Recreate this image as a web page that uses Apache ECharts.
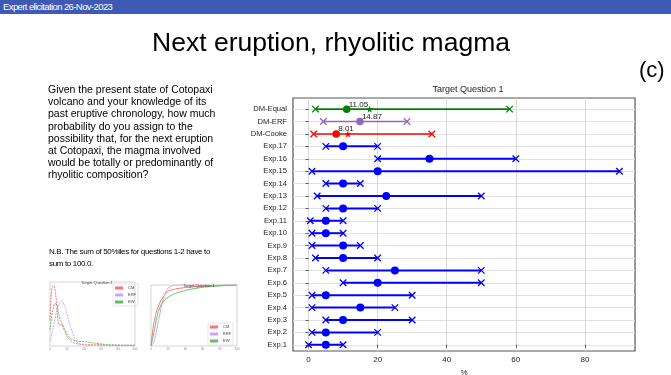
<!DOCTYPE html>
<html>
<head>
<meta charset="utf-8">
<script src="https://cdn.jsdelivr.net/npm/echarts@6/dist/echarts.min.js"></script>
<style>
  html, body { margin: 0; padding: 0; background: #fff; }
  #slide { position: relative; width: 671px; height: 375px; overflow: hidden; font-family: "Liberation Sans", Arial, sans-serif; }
  #chart { position: absolute; left: 0; top: 0; width: 671px; height: 375px; }
  .txt { position: absolute; pointer-events: none; color: #000; white-space: nowrap; }
  #bar { left: 0; top: 0; width: 671px; height: 14px; background: #3d5bb4; color: #fff; font-size: 9.5px; line-height: 14px; padding-left: 3px; box-sizing: border-box; letter-spacing: -0.6px; }
  #title { left: 0; width: 662px; top: 27px; text-align: center; font-size: 26.5px; }
  #tag { left: 639px; top: 57px; font-size: 22px; }
  #question { left: 48px; top: 83px; font-size: 10.5px; line-height: 12.2px; }
  #nb { left: 49px; top: 246px; font-size: 8px; line-height: 11.5px; letter-spacing: -0.35px; }
</style>
</head>
<body>
<div id="slide">
  <div id="chart"></div>
  <div id="bar" class="txt">Expert elicitation 26-Nov-2023</div>
  <div id="title" class="txt">Next eruption, rhyolitic magma</div>
  <div id="tag" class="txt">(c)</div>
  <div id="question" class="txt">Given the present state of Cotopaxi<br>volcano and your knowledge of its<br>past eruptive chronology, how much<br>probability do you assign to the<br>possibility that, for the next eruption<br>at Cotopaxi, the magma involved<br>would be totally or predominantly of<br>rhyolitic composition?</div>
  <div id="nb" class="txt">N.B. The sum of 50%iles for questions 1-2 have to<br>sum to 100.0.</div>
</div>
<script>
// rows bottom -> top
const rows = ['Exp.1', 'Exp.2', 'Exp.3', 'Exp.4', 'Exp.5', 'Exp.6', 'Exp.7', 'Exp.8', 'Exp.9', 'Exp.10',
  'Exp.11', 'Exp.12', 'Exp.13', 'Exp.14', 'Exp.15', 'Exp.16', 'Exp.17', 'DM-Cooke', 'DM-ERF', 'DM-Equal'];
const lower = [0, 1, 5, 1, 1, 10, 5, 2, 1, 1, 0.5, 5, 2.5, 5, 1, 20, 5, 1.5, 4.3, 2];
const median = [5, 5, 10, 15, 5, 20, 25, 10, 10, 5, 5, 10, 22.5, 10, 20, 35, 10, 8.01, 14.87, 11.05];
const upper = [10, 20, 30, 25, 30, 50, 50, 20, 15, 10, 10, 20, 50, 15, 90, 60, 20, 35.7, 28.5, 58.2];
const rowColors = ['#0000ff', '#0000ff', '#0000ff', '#0000ff', '#0000ff', '#0000ff', '#0000ff', '#0000ff', '#0000ff', '#0000ff',
  '#0000ff', '#0000ff', '#0000ff', '#0000ff', '#0000ff', '#0000ff', '#0000ff', '#ff0000', '#9467bd', '#008000'];
const starRows = ['DM-Cooke', 'DM-Equal'];
const starValues = [11.4, 17.7];
const xTicks = [0, 20, 40, 60, 80];

// thumbnails
const pdfX = [0, 2, 4, 6, 8, 10, 12, 14, 16, 18, 20, 22, 25, 28, 30, 35, 40, 45, 55, 70, 100];
const pdfCM = [0.40, 0.87, 0.94, 0.87, 0.61, 0.35, 0.33, 0.33, 0.27, 0.22, 0.15, 0.11, 0.07, 0.05, 0.04, 0.03, 0.02, 0.02, 0.02, 0.01, 0.01];
const pdfERF = [0.07, 0.18, 0.30, 0.43, 0.56, 0.64, 0.69, 0.70, 0.66, 0.59, 0.50, 0.40, 0.27, 0.15, 0.09, 0.03, 0.02, 0.01, 0.01, 0.01, 0.01];
const pdfEW = [0.25, 0.46, 0.60, 0.66, 0.65, 0.51, 0.42, 0.35, 0.30, 0.24, 0.19, 0.15, 0.11, 0.09, 0.08, 0.07, 0.07, 0.06, 0.04, 0.02, 0.01];
const cdfX = [0, 3, 5, 6, 10, 15, 20, 25, 30, 50, 75, 100];
const cdfCM = [0, 0.35, 0.48, 0.55, 0.70, 0.82, 0.90, 0.92, 0.94, 0.97, 0.99, 1];
const cdfERF = [0, 0.06, 0.15, 0.22, 0.50, 0.80, 0.95, 0.99, 1, 1, 1, 1];
const cdfEW = [0, 0.20, 0.33, 0.42, 0.62, 0.74, 0.80, 0.84, 0.87, 0.94, 0.98, 1];
const thumbNames = ['CM', 'ERF', 'EW'];
const thumbColors = ['#ff7070', '#c9a6ee', '#66bb66'];

const crossPath = 'path://M0,0L10,10M10,0L0,10';
const starPath = 'path://M5,0L6.2,3.5L10,3.6L7,5.9L8.1,9.5L5,7.4L1.9,9.5L3,5.9L0,3.6L3.8,3.5Z';

const chart = echarts.init(document.getElementById('chart'), null, { renderer: 'canvas' });

const segData = rows.map((r, i) => [lower[i], upper[i], i]);
const endData = [];
rows.forEach((r, i) => {
  endData.push({ value: [lower[i], i], itemStyle: { borderColor: rowColors[i] } });
  endData.push({ value: [upper[i], i], itemStyle: { borderColor: rowColors[i] } });
});
const medData = rows.map((r, i) => {
  const isDM = r.startsWith('DM');
  return {
    value: [median[i], i],
    symbolSize: isDM ? 7.5 : 8,
    itemStyle: { color: rowColors[i] },
    label: isDM ? { show: true, formatter: String(median[i]) } : { show: false }
  };
});
const starData = starRows.map((r, k) => ({
  value: [starValues[k], rows.indexOf(r)],
  itemStyle: { color: rowColors[rows.indexOf(r)] }
}));

const thumbGridStyle = { show: true, borderColor: '#bbb', borderWidth: 0.6, outerBoundsMode: 'none' };
const tinyAxis = {
  axisLine: { show: false },
  axisTick: { show: false },
  axisLabel: { fontSize: 3, color: '#888', margin: 2 },
  splitLine: { show: false }
};

const series = [
  {
    type: 'custom',
    xAxisIndex: 0, yAxisIndex: 0,
    data: segData,
    z: 2,
    renderItem: (params, api) => {
      const i = api.value(2);
      const p1 = api.coord([api.value(0), i]);
      const p2 = api.coord([api.value(1), i]);
      return {
        type: 'line',
        shape: { x1: p1[0], y1: p1[1], x2: p2[0], y2: p2[1] },
        style: { stroke: rowColors[i], lineWidth: rows[i].startsWith('DM') ? 1.6 : 2 }
      };
    }
  },
  {
    type: 'scatter',
    xAxisIndex: 0, yAxisIndex: 0,
    symbol: crossPath,
    symbolSize: 6.5,
    z: 3,
    itemStyle: { color: 'transparent', borderWidth: 1.3, opacity: 1 },
    data: endData
  },
  {
    type: 'scatter',
    xAxisIndex: 0, yAxisIndex: 0,
    symbol: 'circle',
    z: 4,
    itemStyle: { opacity: 1 },
    label: { position: 'top', align: 'left', offset: [2, 8], fontSize: 8, color: '#222', fontFamily: 'Liberation Sans' },
    data: medData
  },
  {
    type: 'scatter',
    xAxisIndex: 0, yAxisIndex: 0,
    symbol: starPath,
    symbolSize: 7,
    z: 5,
    itemStyle: { opacity: 1 },
    data: starData
  }
];

thumbNames.forEach((n, k) => {
  const pdfVals = [pdfCM, pdfERF, pdfEW][k];
  const cdfVals = [cdfCM, cdfERF, cdfEW][k];
  series.push({
    name: n, type: 'line', xAxisIndex: 1, yAxisIndex: 1, smooth: true, showSymbol: false,
    lineStyle: { color: thumbColors[k], width: 1, type: [2, 1] },
    itemStyle: { color: thumbColors[k] },
    data: pdfX.map((x, j) => [x, pdfVals[j]])
  });
  series.push({
    name: n, type: 'line', xAxisIndex: 2, yAxisIndex: 2, smooth: true, showSymbol: false,
    lineStyle: { color: thumbColors[k], width: 1 },
    itemStyle: { color: thumbColors[k] },
    data: cdfX.map((x, j) => [x, cdfVals[j]])
  });
});

chart.setOption({
  animation: false,
  backgroundColor: 'transparent',
  title: [
    { text: 'Target Question 1', left: 463, top: 80, textAlign: 'center',
      textStyle: { fontSize: 9, fontWeight: 'normal', color: '#222', fontFamily: 'Liberation Sans' } },
    { text: 'Target Question 1', left: 92, top: 276, textAlign: 'center',
      textStyle: { fontSize: 4, fontWeight: 'normal', color: '#444' } },
    { text: 'Target Question 1', left: 194, top: 279, textAlign: 'center',
      textStyle: { fontSize: 4, fontWeight: 'normal', color: '#444' } }
  ],
  legend: [
    { data: thumbNames, orient: 'vertical', left: 113, top: 284, itemWidth: 8, itemHeight: 3, itemGap: 3,
      padding: 2, borderColor: '#ccc', borderWidth: 0.5, textStyle: { fontSize: 4, color: '#444' },
      icon: 'rect', selectedMode: false },
    { data: thumbNames, orient: 'vertical', left: 208, top: 323, itemWidth: 8, itemHeight: 3, itemGap: 3,
      padding: 2, borderColor: '#ccc', borderWidth: 0.5, textStyle: { fontSize: 4, color: '#444' },
      icon: 'rect', selectedMode: false }
  ],
  grid: [
    { left: 293, top: 98, width: 342, height: 253, show: true, borderColor: '#555', borderWidth: 1.2, outerBoundsMode: 'none' },
    { left: 50, top: 282, width: 85, height: 64, ...thumbGridStyle },
    { left: 151, top: 285, width: 86, height: 61, ...thumbGridStyle }
  ],
  xAxis: [
    {
      gridIndex: 0, type: 'value', min: -4.5, max: 94.5,
      name: '%', nameLocation: 'middle', nameGap: 18,
      nameTextStyle: { fontSize: 8, color: '#222', fontFamily: 'Liberation Sans' },
      axisLine: { show: false },
      axisTick: { show: true, customValues: xTicks, length: 3, lineStyle: { color: '#555' } },
      axisLabel: { customValues: xTicks, fontSize: 8, color: '#222', margin: 5, fontFamily: 'Liberation Sans' },
      splitLine: { show: true, lineStyle: { color: '#d8d8d8', width: 1 } }
    },
    { gridIndex: 1, type: 'value', min: 0, max: 100, interval: 20, ...tinyAxis },
    { gridIndex: 2, type: 'value', min: 0, max: 100, interval: 20, ...tinyAxis }
  ],
  yAxis: [
    {
      gridIndex: 0, type: 'value', min: -0.5, max: 19.9,
      axisLine: { show: false },
      axisTick: { show: true, customValues: rows.map((r, i) => i), length: 3, lineStyle: { color: '#555' } },
      axisLabel: {
        customValues: rows.map((r, i) => i), fontSize: 7.6, color: '#222', margin: 6, fontFamily: 'Liberation Sans',
        formatter: v => rows[v] || ''
      },
      splitLine: { show: true, lineStyle: { color: '#e0e0e0', width: 1 } }
    },
    { gridIndex: 1, type: 'value', min: 0, max: 1, interval: 0.2, ...tinyAxis, axisLabel: { show: false } },
    { gridIndex: 2, type: 'value', min: 0, max: 1, interval: 0.2, ...tinyAxis, axisLabel: { show: false } }
  ],
  series: series
});
</script>
</body>
</html>
